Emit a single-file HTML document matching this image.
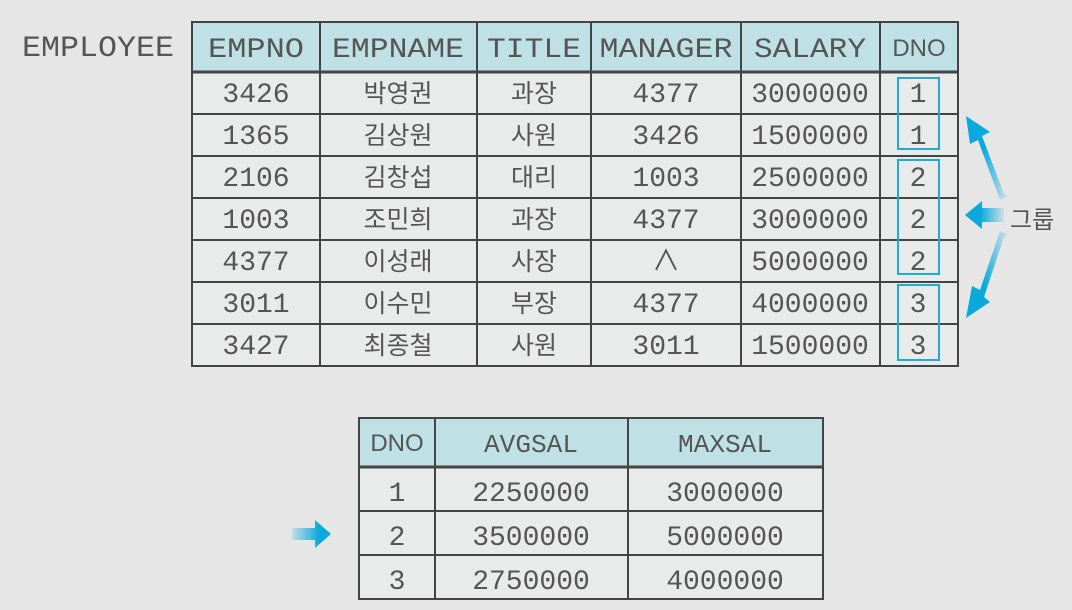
<!DOCTYPE html>
<html><head><meta charset="utf-8"><style>
html,body{margin:0;padding:0;background:#e6e6e6;}
svg{display:block}
text{font-family:"Liberation Mono","Noto Sans CJK KR",monospace;fill:#555;}
.k{font-family:"Liberation Sans","Noto Sans CJK KR",sans-serif;}
</style></head><body>
<svg width="1072" height="610" viewBox="0 0 1072 610" xmlns="http://www.w3.org/2000/svg">
<defs>
<linearGradient id="gu" x1="1" y1="1" x2="0" y2="0"><stop offset="0" stop-color="#0aa9dd" stop-opacity="0.1"/><stop offset="0.6" stop-color="#0aa9dd"/></linearGradient>
<linearGradient id="gd" x1="1" y1="0" x2="0" y2="1"><stop offset="0" stop-color="#0aa9dd" stop-opacity="0.1"/><stop offset="0.6" stop-color="#0aa9dd"/></linearGradient>
<linearGradient id="gh" x1="1" y1="0" x2="0" y2="0"><stop offset="0" stop-color="#0aa9dd" stop-opacity="0.1"/><stop offset="0.6" stop-color="#0aa9dd"/></linearGradient>
<linearGradient id="gr" x1="0" y1="0" x2="1" y2="0"><stop offset="0" stop-color="#0aa9dd" stop-opacity="0.15"/><stop offset="0.7" stop-color="#0aa9dd"/></linearGradient>
</defs>
<rect width="1072" height="610" fill="#e6e6e6"/>
<text x="22" y="56" font-size="30" textLength="152" lengthAdjust="spacingAndGlyphs">EMPLOYEE</text>
<rect x="192" y="22" width="766" height="50" fill="#bfe0e4"/>
<rect x="192" y="72" width="766" height="294" fill="#e9ebeb"/>
<g stroke="#444" stroke-width="2" fill="none">
<rect x="192" y="22" width="766" height="344"/>
<line x1="192" y1="72" x2="958" y2="72" stroke-width="3"/>
<line x1="192" y1="114" x2="958" y2="114"/><line x1="192" y1="156" x2="958" y2="156"/>
<line x1="192" y1="198" x2="958" y2="198"/><line x1="192" y1="240" x2="958" y2="240"/>
<line x1="192" y1="282" x2="958" y2="282"/><line x1="192" y1="324" x2="958" y2="324"/>
<line x1="320" y1="22" x2="320" y2="366"/><line x1="477" y1="22" x2="477" y2="366"/>
<line x1="591" y1="22" x2="591" y2="366"/><line x1="741" y1="22" x2="741" y2="366"/>
<line x1="880" y1="22" x2="880" y2="366"/>
</g>
<g font-size="28" text-anchor="middle">
<text x="256" y="57" textLength="96" lengthAdjust="spacingAndGlyphs">EMPNO</text>
<text x="398" y="57" textLength="132" lengthAdjust="spacingAndGlyphs">EMPNAME</text>
<text x="534" y="57" textLength="94" lengthAdjust="spacingAndGlyphs">TITLE</text>
<text x="666" y="57" textLength="133" lengthAdjust="spacingAndGlyphs">MANAGER</text>
<text x="810" y="57" textLength="112" lengthAdjust="spacingAndGlyphs">SALARY</text>
<text x="919" y="56" class="k" font-size="24">DNO</text>
</g>
<g font-size="28" text-anchor="middle">
<text x="256" y="102">3426</text><text x="256" y="144">1365</text><text x="256" y="186">2106</text><text x="256" y="228">1003</text><text x="256" y="270">4377</text><text x="256" y="312">3011</text><text x="256" y="354">3427</text>
<text x="666" y="102">4377</text><text x="666" y="144">3426</text><text x="666" y="186">1003</text><text x="666" y="228">4377</text><text x="666" y="270">∧</text><text x="666" y="312">4377</text><text x="666" y="354">3011</text>
<text x="810" y="102">3000000</text><text x="810" y="144">1500000</text><text x="810" y="186">2500000</text><text x="810" y="228">3000000</text><text x="810" y="270">5000000</text><text x="810" y="312">4000000</text><text x="810" y="354">1500000</text>
<text x="918" y="102">1</text><text x="918" y="144">1</text><text x="918" y="186">2</text><text x="918" y="228">2</text><text x="918" y="270">2</text><text x="918" y="312">3</text><text x="918" y="354">3</text>
</g>
<g font-size="25" text-anchor="middle">
<text class="k" x="398" y="102">박영권</text><text class="k" x="398" y="144">김상원</text><text class="k" x="398" y="186">김창섭</text><text class="k" x="398" y="228">조민희</text><text class="k" x="398" y="270">이성래</text><text class="k" x="398" y="312">이수민</text><text class="k" x="398" y="354">최종철</text>
<text class="k" x="534" y="102">과장</text><text class="k" x="534" y="144">사원</text><text class="k" x="534" y="186">대리</text><text class="k" x="534" y="228">과장</text><text class="k" x="534" y="270">사장</text><text class="k" x="534" y="312">부장</text><text class="k" x="534" y="354">사원</text>
</g>
<g stroke="#22a9d8" stroke-width="2" fill="none">
<rect x="898" y="78" width="41" height="71"/>
<rect x="898" y="160" width="41" height="114"/>
<rect x="898" y="285" width="41" height="75"/>
</g>
<polygon points="1008,196 1000,200 978,140 970,144 966,116 990,132 982,136 1004,194" fill="url(#gu)"/>
<polygon points="1004,208 982,208 982,201 965,215 982,229 982,222 1004,222" fill="url(#gh)"/>
<polygon points="1008,234 1000,231 980,290 972,286 966,318 990,302 984,297 1004,237" fill="url(#gd)"/>
<text class="k" x="1010" y="228" font-size="24">그룹</text>
<rect x="359" y="418" width="464" height="49" fill="#bfe0e4"/>
<rect x="359" y="467" width="464" height="132" fill="#e9ebeb"/>
<g stroke="#444" stroke-width="2" fill="none">
<rect x="359" y="418" width="464" height="181"/>
<line x1="359" y1="467" x2="823" y2="467" stroke-width="3"/>
<line x1="359" y1="511" x2="823" y2="511"/><line x1="359" y1="555" x2="823" y2="555"/>
<line x1="435" y1="418" x2="435" y2="599"/><line x1="628" y1="418" x2="628" y2="599"/>
</g>
<g font-size="28" text-anchor="middle">
<text class="k" x="397" y="451" font-size="24">DNO</text>
<text x="531" y="452" font-size="26" textLength="94" lengthAdjust="spacingAndGlyphs">AVGSAL</text>
<text x="725" y="452" font-size="26" textLength="94" lengthAdjust="spacingAndGlyphs">MAXSAL</text>
<text x="397" y="501">1</text><text x="397" y="545">2</text><text x="397" y="589">3</text>
<text x="531" y="501">2250000</text><text x="531" y="545">3500000</text><text x="531" y="589">2750000</text>
<text x="725" y="501">3000000</text><text x="725" y="545">5000000</text><text x="725" y="589">4000000</text>
</g>
<polygon points="292,528 315,528 315,520 331,534 315,548 315,540 292,540" fill="url(#gr)"/>
</svg>
</body></html>
